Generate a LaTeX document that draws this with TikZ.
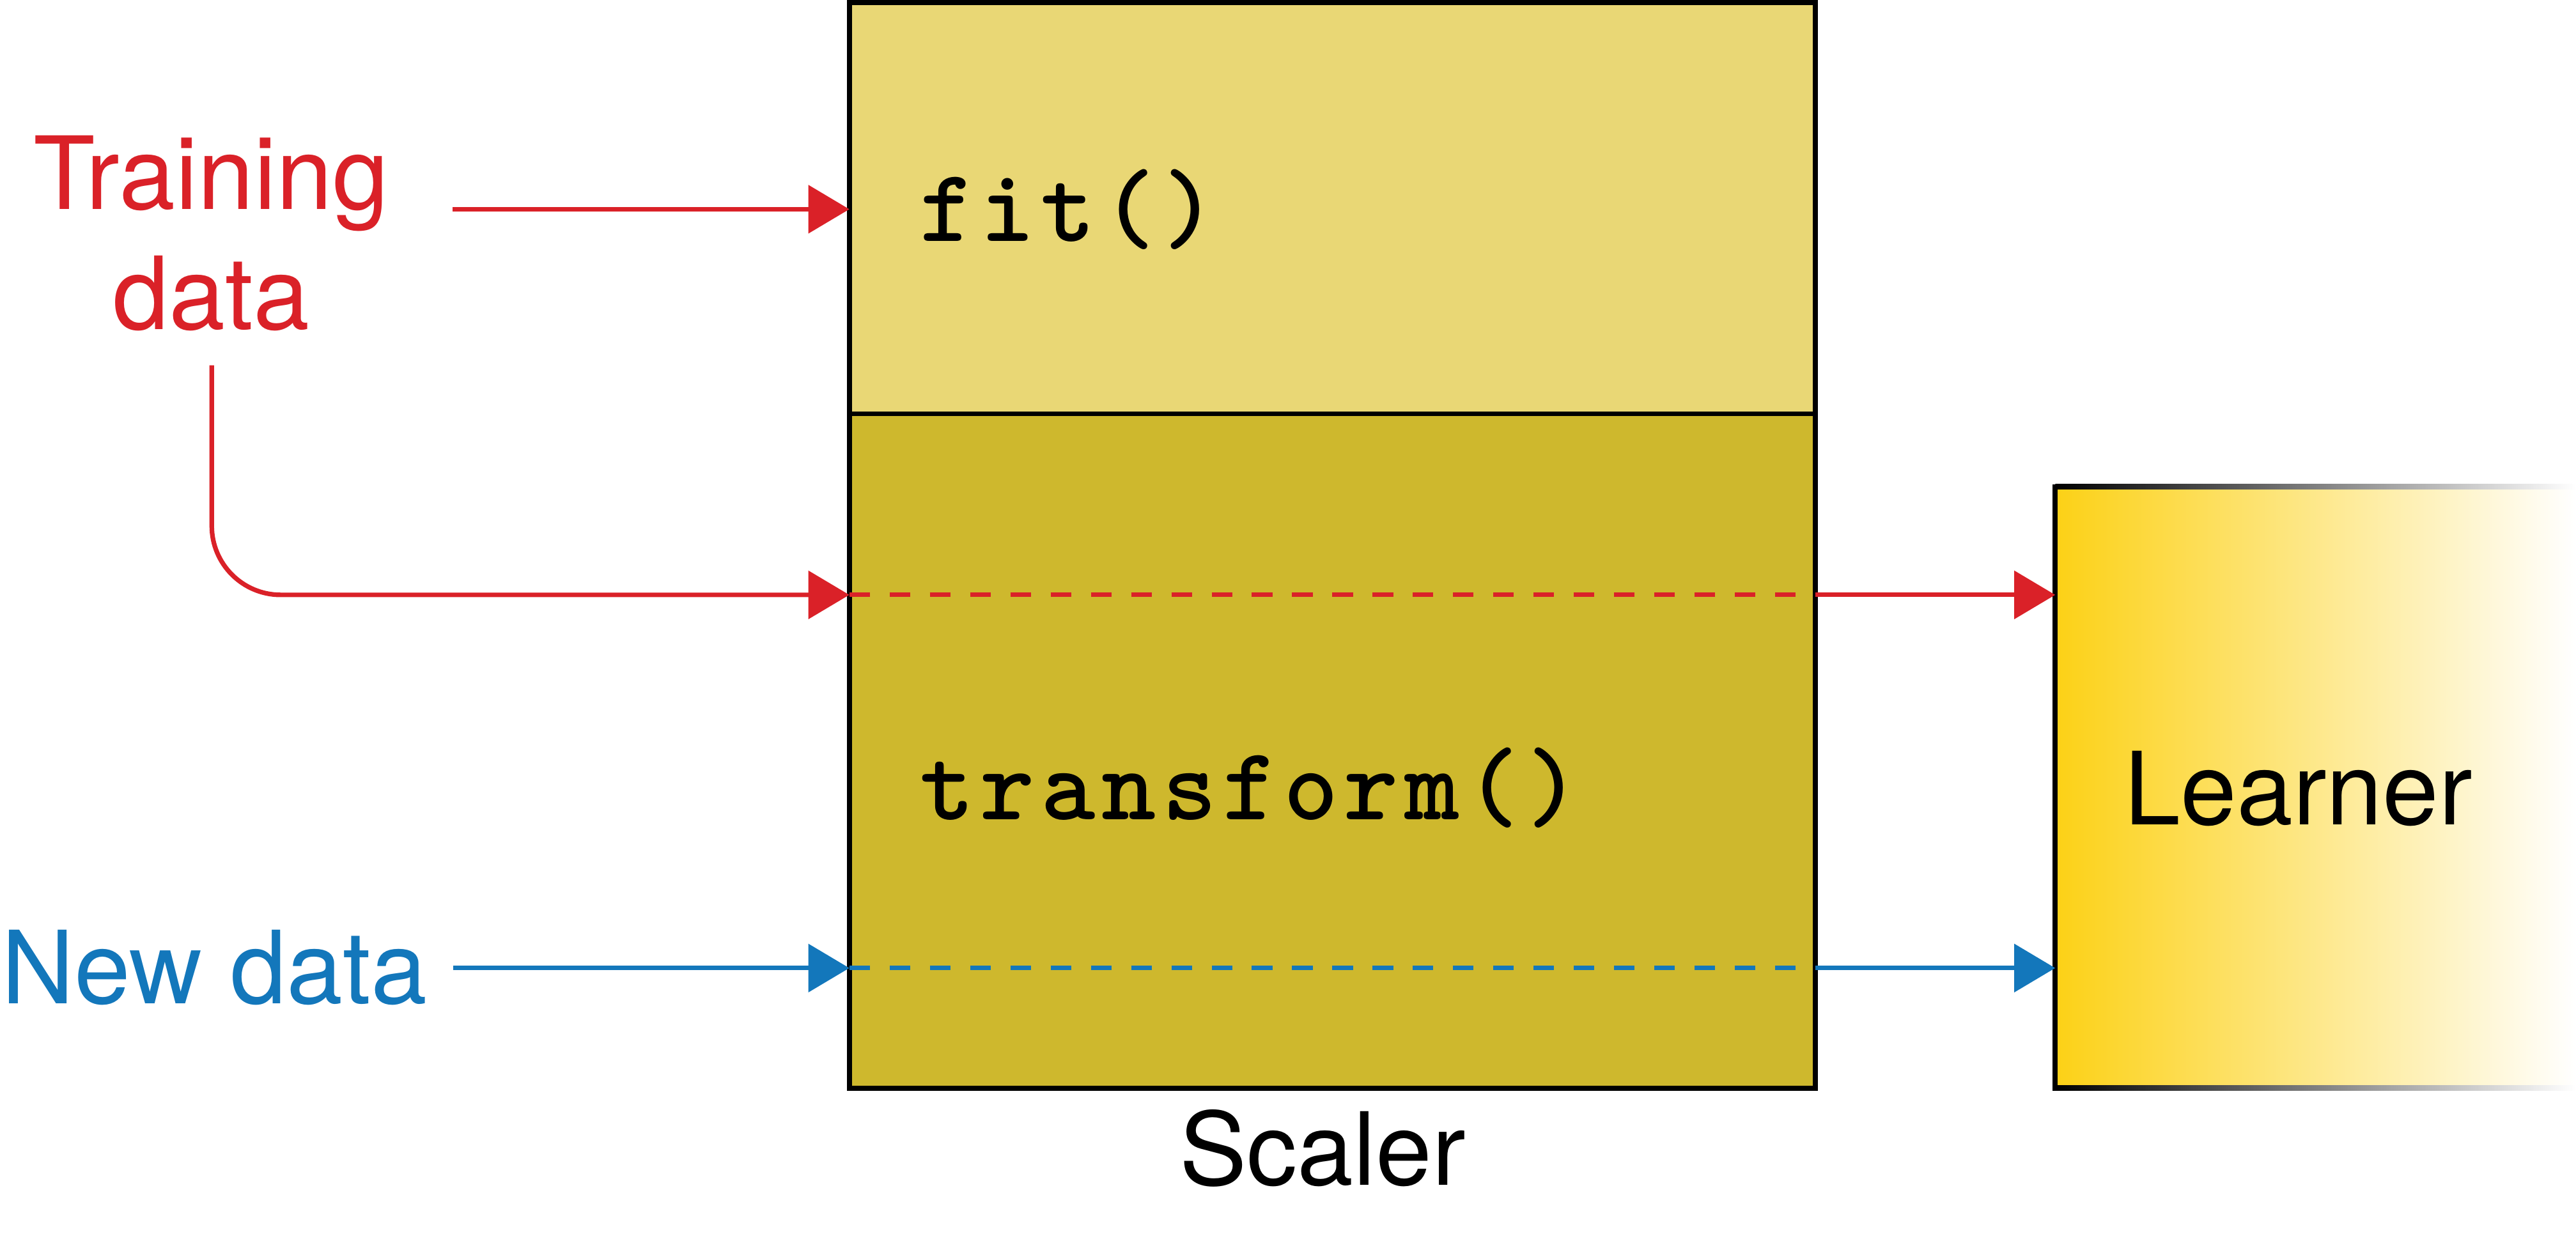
\documentclass[tikz,border=0pt]{standalone}
\usepackage{fontspec}
\setmainfont{TeX Gyre Heros}
\newfontfamily\codefont[LetterSpace=5.8]{lmmonolt10-bold.otf}
\usetikzlibrary{arrows.meta}
\definecolor{trainred}{HTML}{DA2128}
\definecolor{newblue}{HTML}{1377BB}
\definecolor{fityellow}{HTML}{E9D775}
\definecolor{transyellow}{HTML}{CEB82D}
\definecolor{learnyellow}{HTML}{FCD116}

\begin{document}
\begin{tikzpicture}[
  every node/.style={inner sep=0pt, outer sep=0pt, font=\fontsize{17.5}{20.8}\selectfont},
  scalerpart/.style={draw=black, line width=0.85pt, minimum width=5.88cm, anchor=south west},
  codetext/.style={anchor=base west, font=\codefont\fontsize{18}{20}\selectfont},
  flow/.style={line width=0.8pt, -{Triangle[length=2.5mm,width=2.9mm]}},
  flowdash/.style={line width=0.8pt, dash pattern=on 1.25mm off 1.2mm}
]
\useasboundingbox (0,0) rectangle (15.68,7.51);

\node[scalerpart, fill=transyellow, minimum height=4.105cm] (trbox) at (5.17,0.885) {};
\node[scalerpart, fill=fityellow, minimum height=2.503cm] (fitbox) at (5.17,4.99) {};
\node[codetext] (fittext) at (5.60,6.042) {fit()};
\node[codetext] (trtext) at (5.60,2.52) {transform()};
\node[anchor=base] (scalerlabel) at (8.05,0.295) {Scaler};

\node[anchor=south west, minimum width=3.17cm, minimum height=3.662cm,
  left color=learnyellow, right color=white] (learner) at (12.51,0.885) {};
\shade[left color=black, right color=white] ([yshift=-0.015cm]learner.north west) rectangle ([yshift=0.015cm]learner.north east);
\shade[left color=black, right color=white] ([yshift=-0.015cm]learner.south west) rectangle ([yshift=0.015cm]learner.south east);
\draw[line width=0.85pt] ([yshift=-0.015cm]learner.south west) -- ([yshift=0.015cm]learner.north west);
\node[anchor=base] (learnerlabel) at (13.99,2.488) {Learner};

\node[anchor=base, align=center, text=trainred] (train) at (1.285,5.503) {Training\\data};
\node[anchor=base, text=newblue] (newdata) at (1.305,1.40) {New data};

\coordinate (fitin) at (2.755,6.236);
\coordinate (trdown) at (1.289,5.286);
\coordinate (trlevel) at (0,3.888);
\coordinate (newin) at (2.76,1.616);

\draw[flow, trainred] (fitin) -- (fitin -| fitbox.west);
\draw[flow, trainred, rounded corners=4.2mm] (trdown) |- (trlevel -| trbox.west);
\draw[flowdash, trainred] (trlevel -| trbox.west) -- (trlevel -| trbox.east);
\draw[flow, trainred] (trlevel -| trbox.east) -- (trlevel -| learner.west);

\draw[flow, newblue] (newin) -- (newin -| trbox.west);
\draw[flowdash, newblue] (newin -| trbox.west) -- (newin -| trbox.east);
\draw[flow, newblue] (newin -| trbox.east) -- (newin -| learner.west);
\end{tikzpicture}
\end{document}
